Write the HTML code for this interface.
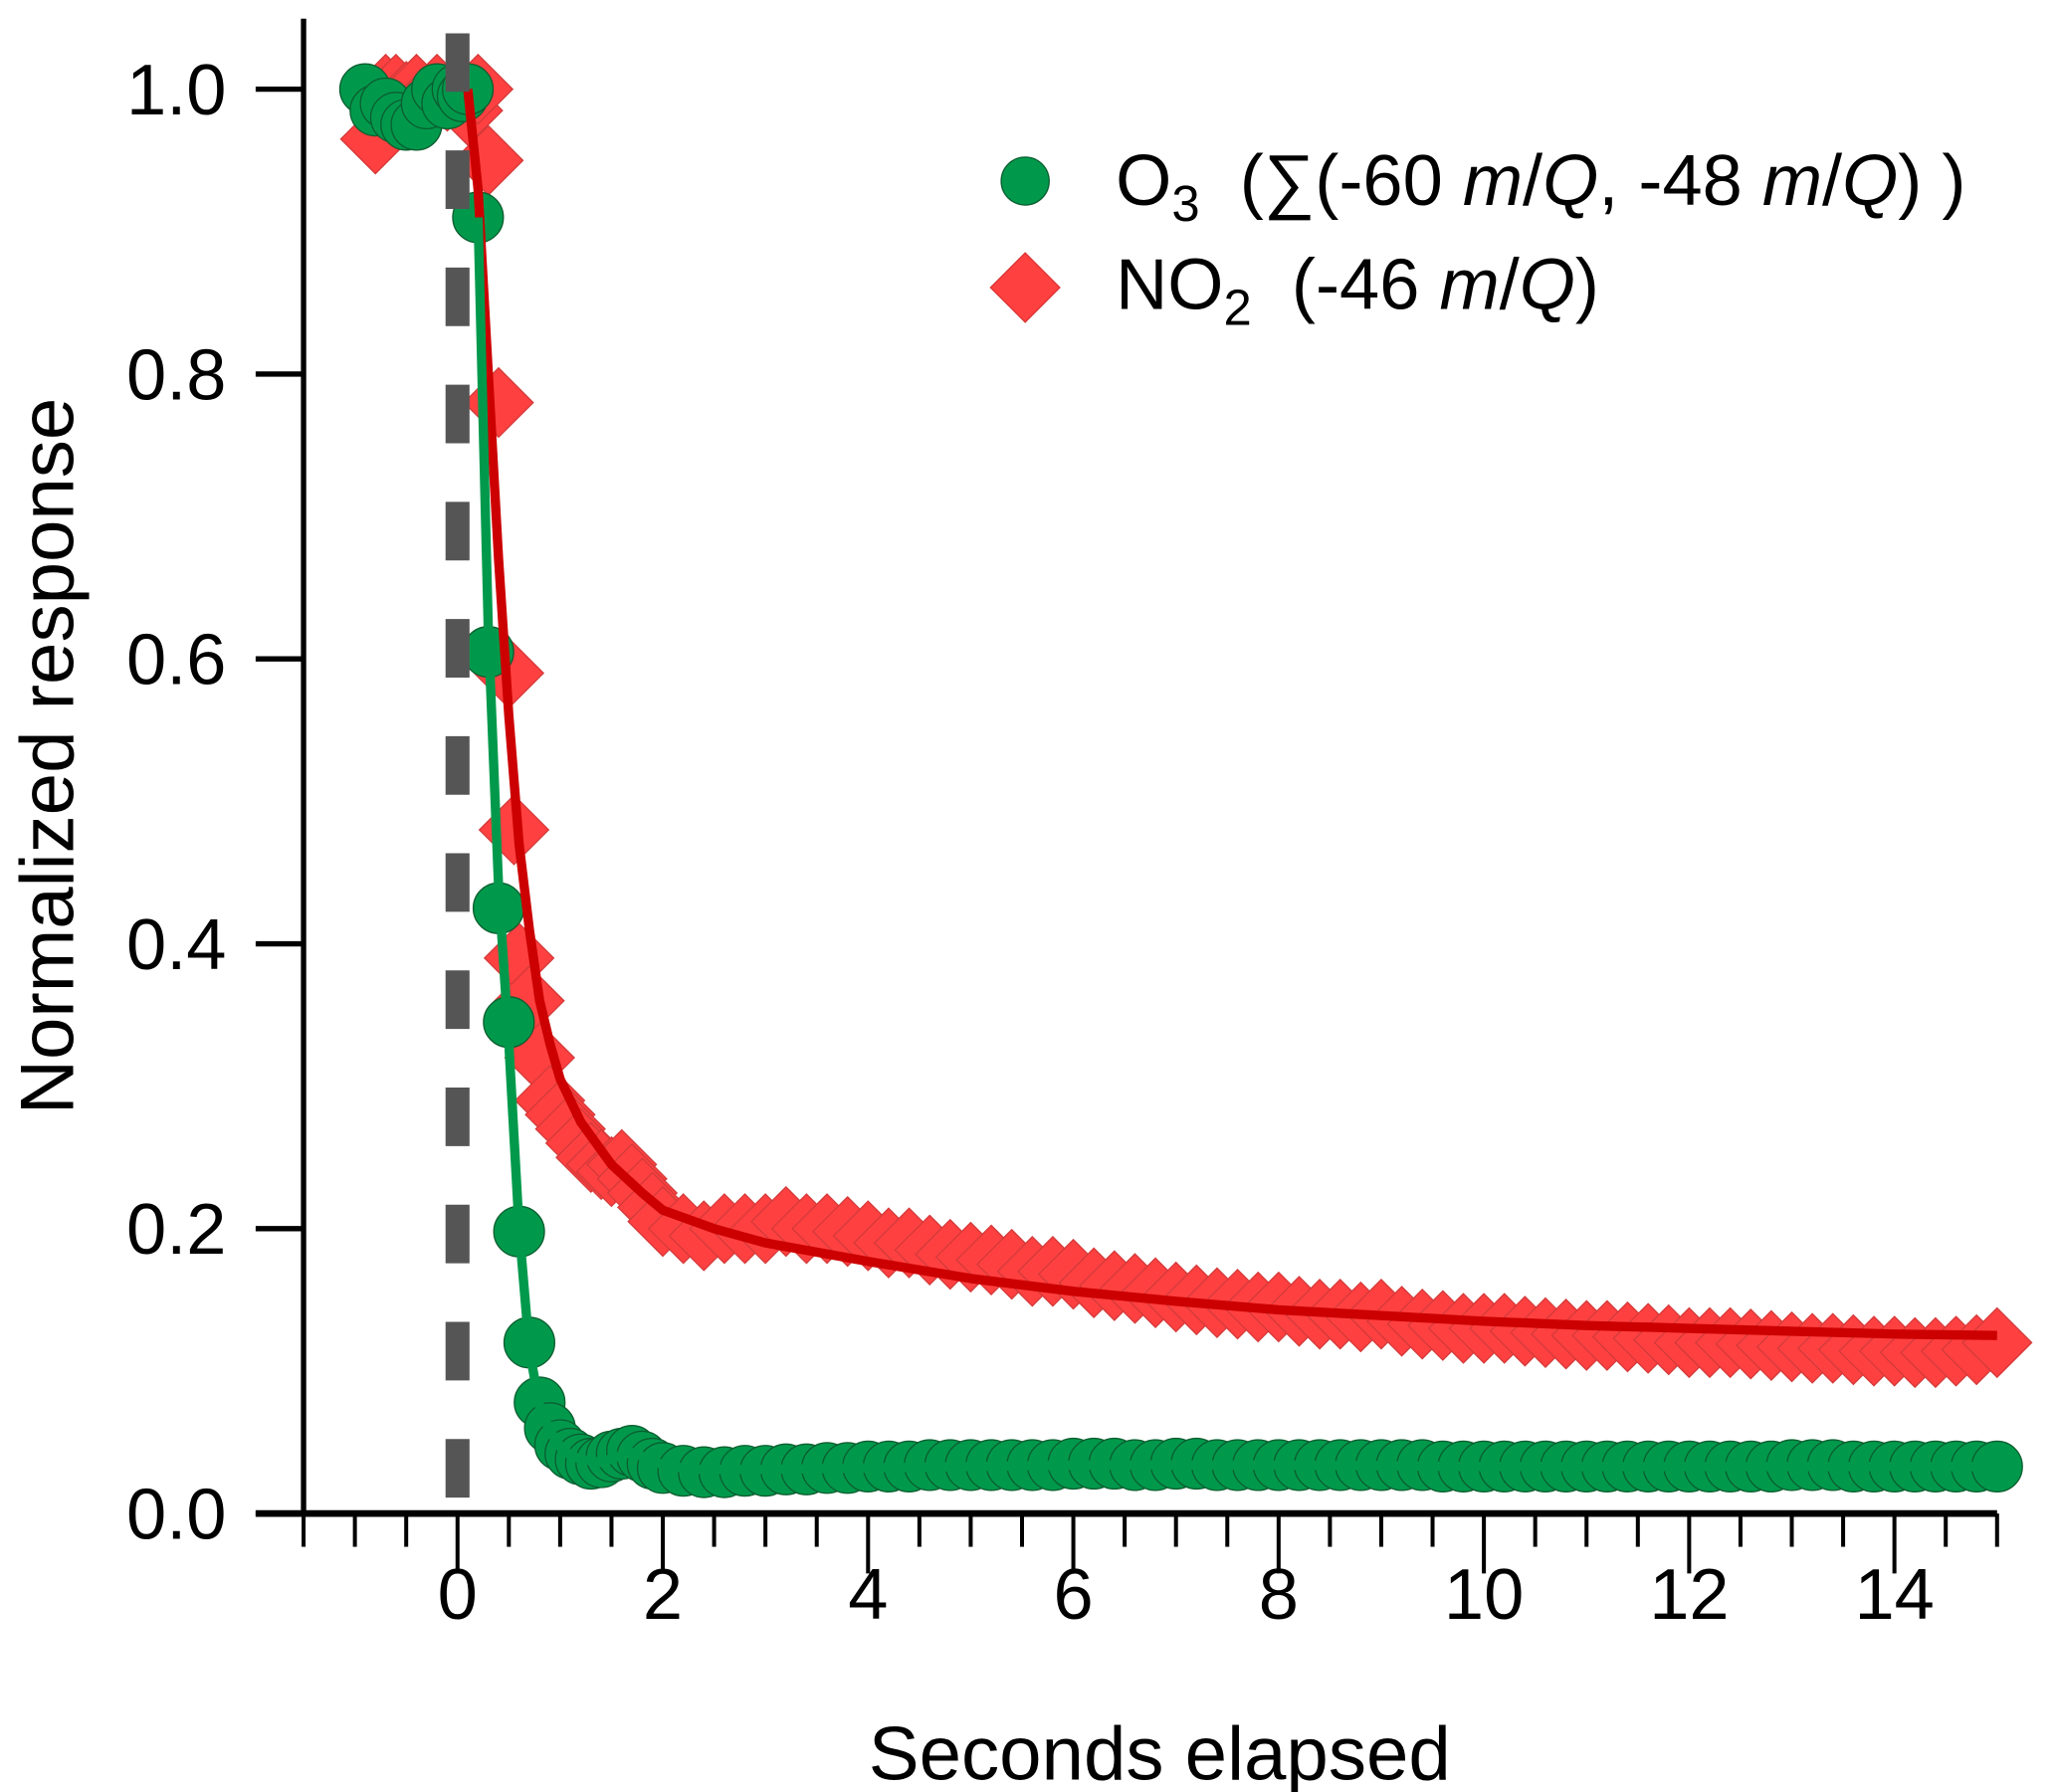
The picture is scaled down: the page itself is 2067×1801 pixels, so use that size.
<!DOCTYPE html>
<html><head><meta charset="utf-8"><style>
html,body{margin:0;padding:0;background:#fff;}
svg{display:block;font-family:"Liberation Sans",Arial,sans-serif;}
</style></head><body>
<svg id="chart" width="2067" height="1801" viewBox="0 0 1545 1346.2" xmlns="http://www.w3.org/2000/svg">
<g id="marks"></g>
<g id="axes"></g>
<text x="871" y="1337" font-size="57" text-anchor="middle">Seconds elapsed</text>
<text x="0" y="0" font-size="57" text-anchor="middle" transform="translate(55,568) rotate(-90)">Normalized response</text>
<g>
<circle cx="770" cy="136" r="18" fill="#00994c" stroke="#0b5e2f" stroke-width="1"/>
<text x="838" y="154" font-size="54" xml:space="preserve">O<tspan font-size="38" dy="12">3</tspan><tspan dy="-12">  (∑(-60 </tspan><tspan font-style="italic">m</tspan>/<tspan font-style="italic">Q</tspan>, -48 <tspan font-style="italic">m</tspan>/<tspan font-style="italic">Q</tspan>) )</text>
<polygon points="770,190 796,216 770,242 744,216" fill="#ff4040" stroke="#d33" stroke-width="1"/>
<text x="838" y="232" font-size="54" xml:space="preserve">NO<tspan font-size="38" dy="12">2</tspan><tspan dy="-12">  (-46 </tspan><tspan font-style="italic">m</tspan>/<tspan font-style="italic">Q</tspan>)</text>
</g>
</svg>
<script>
const o3Times=[-0.9,-0.8,-0.7,-0.6,-0.5,-0.4,-0.3,-0.2,-0.1,0,0.05,0.1,0.2,0.3,0.4,0.5,0.6,0.7,0.8,0.9,1.0,1.1,1.2,1.3,1.4,1.5,1.6,1.7,1.8,1.9,2.0,2.2,2.4,2.6,2.8,3.0,3.2,3.4,3.6,3.8,4.0,4.2,4.4,4.6,4.8,5.0,5.2,5.4,5.6,5.8,6.0,6.2,6.4,6.6,6.8,7.0,7.2,7.4,7.6,7.8,8.0,8.2,8.4,8.6,8.8,9.0,9.2,9.4,9.6,9.8,10.0,10.2,10.4,10.6,10.8,11.0,11.2,11.4,11.6,11.8,12.0,12.2,12.4,12.6,12.8,13.0,13.2,13.4,13.6,13.8,14.0,14.2,14.4,14.6,14.8,15.0];
const o3Values=[1.0,0.985,0.99,0.98,0.975,0.975,0.99,1.0,0.99,1.0,0.995,1.0,0.91,0.605,0.425,0.345,0.198,0.12,0.078,0.06,0.048,0.042,0.038,0.035,0.036,0.04,0.042,0.044,0.04,0.035,0.032,0.03,0.029,0.029,0.03,0.03,0.031,0.031,0.032,0.032,0.033,0.033,0.033,0.034,0.034,0.034,0.034,0.034,0.034,0.034,0.035,0.035,0.035,0.034,0.034,0.035,0.035,0.034,0.034,0.034,0.034,0.034,0.034,0.034,0.034,0.034,0.034,0.034,0.033,0.033,0.033,0.033,0.033,0.033,0.033,0.033,0.033,0.033,0.033,0.033,0.033,0.033,0.033,0.033,0.033,0.034,0.034,0.034,0.033,0.033,0.033,0.033,0.033,0.033,0.033,0.033];
const no2Times=[-0.8,-0.7,-0.6,-0.5,-0.4,-0.3,-0.2,-0.1,0,0.1,0.2,0.3,0.4,0.5,0.55,0.6,0.7,0.8,0.9,1.0,1.1,1.2,1.3,1.4,1.5,1.6,1.7,1.8,1.9,2.0,2.2,2.4,2.6,2.8,3.0,3.2,3.4,3.6,3.8,4.0,4.2,4.4,4.6,4.8,5.0,5.2,5.4,5.6,5.8,6.0,6.2,6.4,6.6,6.8,7.0,7.2,7.4,7.6,7.8,8.0,8.2,8.4,8.6,8.8,9.0,9.2,9.4,9.6,9.8,10.0,10.2,10.4,10.6,10.8,11.0,11.2,11.4,11.6,11.8,12.0,12.2,12.4,12.6,12.8,13.0,13.2,13.4,13.6,13.8,14.0,14.2,14.4,14.6,14.8,15.0];
const no2Values=[0.965,1.0,1.0,0.995,1.0,0.99,1.0,0.995,1.0,0.985,1.0,0.95,0.78,0.59,0.48,0.39,0.36,0.32,0.29,0.28,0.27,0.26,0.25,0.245,0.24,0.245,0.235,0.225,0.215,0.205,0.2,0.195,0.2,0.2,0.2,0.205,0.2,0.2,0.198,0.195,0.19,0.19,0.185,0.182,0.18,0.178,0.175,0.17,0.17,0.168,0.162,0.16,0.158,0.155,0.152,0.15,0.148,0.147,0.145,0.145,0.142,0.14,0.14,0.138,0.14,0.135,0.133,0.132,0.13,0.13,0.13,0.128,0.127,0.126,0.125,0.125,0.124,0.123,0.122,0.12,0.12,0.12,0.119,0.118,0.117,0.116,0.116,0.115,0.114,0.114,0.113,0.113,0.114,0.115,0.12];
const no2FitTimes=[0.1,0.2,0.3,0.4,0.5,0.6,0.7,0.8,0.9,1.0,1.2,1.5,1.8,2,2.5,3,4,5,6,7,8,9,10,11,12,13,14,15];
const no2FitValues=[1.0,0.93,0.8,0.67,0.56,0.47,0.41,0.36,0.33,0.305,0.275,0.245,0.225,0.213,0.2,0.19,0.177,0.165,0.156,0.149,0.143,0.139,0.135,0.132,0.13,0.128,0.126,0.125];
const o3FitTimes=[0.2,0.3,0.4,0.5,0.6,0.7,0.8,0.9,1.0,1.1,1.2,1.4,1.6,1.7,1.8,2.0,2.3,3,4,6,8,10,12,15];
const o3FitValues=[0.91,0.62,0.44,0.33,0.2,0.115,0.075,0.058,0.047,0.041,0.038,0.036,0.041,0.043,0.04,0.034,0.031,0.031,0.032,0.034,0.034,0.033,0.033,0.033];
const xTickLabels=[0,2,4,6,8,10,12,14];
const yTickLabels=[0.0,0.2,0.4,0.6,0.8,1.0];

const NS="http://www.w3.org/2000/svg";
const X0=228,X1=1500,XMIN=-1.5,XMAX=15,Y0=1137,YTOP=14,YMIN=0;
const xs=v=>X0+(v-XMIN)/(XMAX-XMIN)*(X1-X0);
const ys=v=>Y0-(v-YMIN)/(1.0-YMIN)*1070;
function mk(tag,attrs,parent){const e=document.createElementNS(NS,tag);for(const k in attrs)e.setAttribute(k,attrs[k]);parent.appendChild(e);return e;}
const marks=document.getElementById('marks'),axes=document.getElementById('axes');

const gN=mk('g',{},marks);


no2Times.forEach((t,i)=>{const cx=xs(t),cy=ys(no2Values[i]),r=26;
 const p=mk('polygon',{points:`${cx},${cy-r} ${cx+r},${cy} ${cx},${cy+r} ${cx-r},${cy}`,fill:'#ff4040',stroke:'#d43a3a','stroke-width':1},gN);
 
 });
const gO=mk('g',{},marks);


o3Times.forEach((t,i)=>{
 const c=mk('circle',{cx:xs(t),cy:ys(o3Values[i]),r:19,fill:'#00994c',stroke:'#0b5e2f','stroke-width':1},gO);
 
 });
const rl=mk('polyline',{points:no2FitTimes.map((t,i)=>xs(t)+','+ys(no2FitValues[i])).join(' '),fill:'none',stroke:'#cc0000','stroke-width':7,'stroke-linejoin':'round'},marks);


const gl=mk('polyline',{points:o3FitTimes.map((t,i)=>xs(t)+','+ys(o3FitValues[i])).join(' '),fill:'none',stroke:'#00994c','stroke-width':7,'stroke-linejoin':'round'},marks);


const dl=mk('line',{x1:xs(0),x2:xs(0),y1:25,y2:Y0,stroke:'#555','stroke-width':18,'stroke-dasharray':'44 44'},marks);



const ya=mk('line',{x1:X0,x2:X0,y1:YTOP,y2:Y0+2,stroke:'#000','stroke-width':4},axes);


const xa=mk('line',{x1:192,x2:X1,y1:Y0,y2:Y0,stroke:'#000','stroke-width':5},axes);


for(let k=0;k<=33;k++){const v=-1.5+k*0.5;const major=xTickLabels.includes(v);
 const t=mk('line',{x1:xs(v),x2:xs(v),y1:Y0,y2:Y0+(major?45:25),stroke:'#000','stroke-width':3},axes);
 
 }
xTickLabels.forEach(v=>{const t=mk('text',{x:xs(v),y:1216,'font-size':54,'text-anchor':'middle'},axes);t.textContent=v;
 
 });
yTickLabels.forEach(v=>{
 const t=mk('line',{x1:192,x2:X0,y1:ys(v),y2:ys(v),stroke:'#000','stroke-width':4},axes);
 
 
 const l=mk('text',{x:170,y:ys(v)+19,'font-size':54,'text-anchor':'end'},axes);l.textContent=v.toFixed(1);
 
 });
</script>
</body></html>
